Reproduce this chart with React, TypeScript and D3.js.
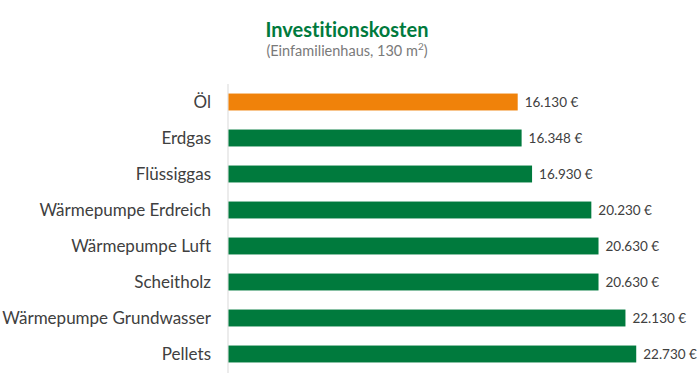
import React, { useEffect, useRef } from "react";
import * as d3 from "d3";

const categories = [
  "Öl",
  "Erdgas",
  "Flüssiggas",
  "Wärmepumpe Erdreich",
  "Wärmepumpe Luft",
  "Scheitholz",
  "Wärmepumpe Grundwasser",
  "Pellets",
];
const costs = [16130, 16348, 16930, 20230, 20630, 20630, 22130, 22730];
const highlighted = ["Öl"];

const GREEN = "#007a3d";
const ORANGE = "#f0820a";

function App() {
  const chart = useRef<SVGSVGElement>(null);

  useEffect(() => {
    const width = 700;
    const height = 385;
    const svg = d3.select(chart.current)
      .attr("width", width)
      .attr("height", height)
      .style("font-variant-ligatures", "none");
    svg.selectAll("*").remove();

    const data = categories.map((c, i) => ({ name: c, value: costs[i] }));

    const x = d3.scaleLinear().domain([0, 25000]).range([228, 677]);
    const y = d3.scaleBand()
      .domain(categories)
      .range([84, 372])
      .paddingInner(0.53)
      .paddingOuter(0.265);

    // title
    svg.append("text")
      .attr("x", 347)
      .attr("y", 37)
      .attr("text-anchor", "middle")
      .attr("font-family", "Lato, 'Open Sans', sans-serif")
      .attr("font-weight", "bold")
      .attr("font-size", 20)
      .attr("fill", GREEN)
      .text("Investitionskosten");

    const sub = svg.append("text")
      .attr("x", 347)
      .attr("y", 56)
      .attr("text-anchor", "middle")
      .attr("font-family", "Lato, 'Open Sans', sans-serif")
      .attr("font-size", 14.5)
      .attr("fill", "#7a7a7a");
    sub.append("tspan").text("(Einfamilienhaus, 130 m");
    sub.append("tspan").attr("baseline-shift", "super").attr("font-size", 10).text("2");
    sub.append("tspan").text(")");

    // vertical axis line
    svg.append("line")
      .attr("x1", x(0)).attr("x2", x(0))
      .attr("y1", 84).attr("y2", 373)
      .attr("stroke", "#d9d9d9")
      .attr("stroke-width", 1);

    svg.selectAll(".bar")
      .data(data)
      .enter()
      .append("rect")
        .attr("class", "bar")
        .attr("x", x(0) + 0.5)
        .attr("y", d => y(d.name)!)
        .attr("width", d => x(d.value) - x(0) - 0.5)
        .attr("height", y.bandwidth())
        .attr("fill", d => highlighted.includes(d.name) ? ORANGE : GREEN);

    svg.selectAll(".cat")
      .data(data)
      .enter()
      .append("text")
        .attr("class", "cat")
        .attr("x", x(0) - 17)
        .attr("y", d => y(d.name)! + y.bandwidth() / 2)
        .attr("dy", "0.35em")
        .attr("text-anchor", "end")
        .attr("font-family", "Lato, 'Open Sans', sans-serif")
        .attr("font-size", 17)
        .attr("fill", "#404040")
        .text(d => d.name);

    const fmt = (v: number) => d3.format(",")(v).replace(/,/g, ".") + " €";

    svg.selectAll(".val")
      .data(data)
      .enter()
      .append("text")
        .attr("class", "val")
        .attr("x", d => x(d.value) + 7)
        .attr("y", d => y(d.name)! + y.bandwidth() / 2)
        .attr("dy", "0.35em")
        .attr("font-family", "Lato, 'Open Sans', sans-serif")
        .attr("font-size", 13.5)
        .attr("fill", "#404040")
        .text(d => fmt(d.value));

    return () => {
      svg.selectAll("*").remove();
    };
  }, []);

  return (
    <svg ref={chart} style={{ position: "absolute", left: 0, top: 0 }}></svg>
  );
}

export default App;
